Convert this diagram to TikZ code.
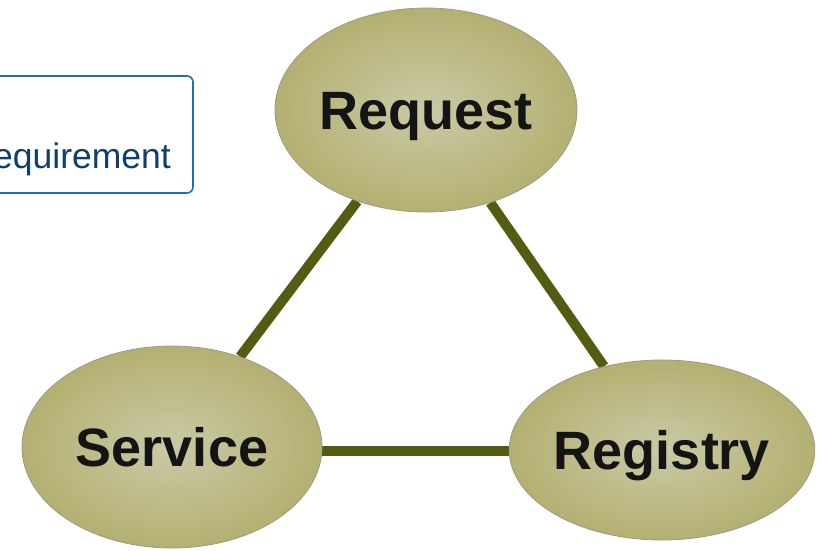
\documentclass[tikz,border=0pt]{standalone}
\usepackage{fontspec}
\setmainfont{Liberation Sans}
\usetikzlibrary{shapes.geometric,backgrounds}
\definecolor{linkolive}{HTML}{545B12}
\definecolor{blobin}{HTML}{CAC9A6}
\definecolor{blobout}{HTML}{B4B072}
\definecolor{blobedge}{HTML}{9C9B86}
\definecolor{boxblue}{HTML}{1C6BC4}
\definecolor{boxtext}{HTML}{0F3E70}
\tikzset{
  blob/.style={ellipse, inner sep=0pt, draw=blobedge, line width=0.8pt,
    inner color=blobin, outer color=blobout,
    text height=39pt, text depth=0pt,
    font=\fontsize{54}{60}\selectfont\bfseries, text=black!92},
  link/.style={draw=linkolive, line width=10pt},
  notebox/.style={draw=boxblue, line width=1.6pt, rounded corners=6pt}
}
\begin{document}
\begin{tikzpicture}[x=1pt,y=-1pt]
  \useasboundingbox (0,0) rectangle (820,550);
  \clip (0,0) rectangle (820,550);

  % the three parts of the triangle
  \node[blob, minimum width=302pt, minimum height=204pt] (req) at (426,110) {Request};
  \node[blob, minimum width=300pt, minimum height=202pt] (svc) at (172,447) {Service};
  \node[blob, minimum width=298pt, minimum height=180pt] (reg) at (662,450) {Registry};

  % links between them, kept behind the ellipses
  \begin{pgfonlayer}{background}
    \draw[link] (req) -- (svc);
    \draw[link] (req) -- (reg);
    \draw[link] (svc.east |- 0,451) -- (reg.west |- 0,451);
  \end{pgfonlayer}

  % label box running off the left edge
  \draw[notebox] (-80,76) rectangle (193,193);
  \node[anchor=base east, inner sep=0pt, text=boxtext,
        font=\fontsize{35.5}{40}\selectfont] (lbl) at (171,168) {Requirement};
\end{tikzpicture}
\end{document}
